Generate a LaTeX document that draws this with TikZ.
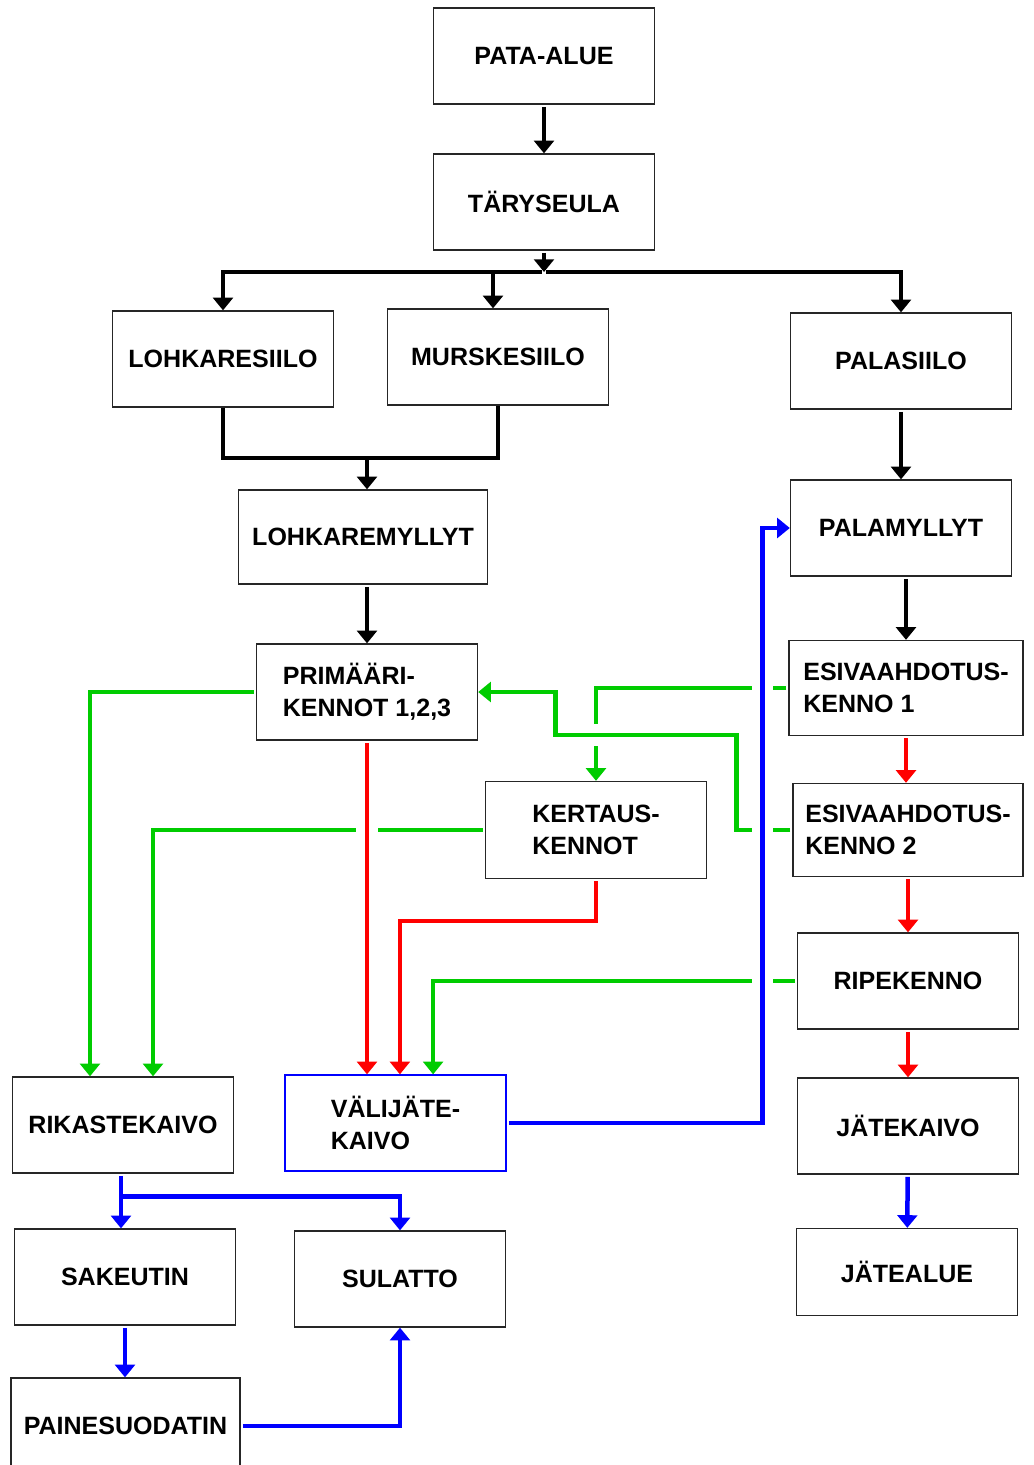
\documentclass[tikz,border=0pt]{standalone}
\usepackage{fontspec}
\setmainfont{Liberation Sans}
\usetikzlibrary{arrows.meta}
\definecolor{flowgreen}{RGB}{0,204,0}
\definecolor{flowred}{RGB}{255,0,0}
\definecolor{flowblue}{RGB}{0,0,255}
\tikzset{
    box/.style={draw=black!85, line width=0.9pt, minimum width=5.525cm, minimum height=2.4cm,
        inner sep=2pt, font=\bfseries\fontsize{17.8}{22.7}\selectfont, align=center},
    flow/.style={line width=3.2pt, shorten <=1.5pt, -{Triangle[width=14pt,length=9pt]}},
    flowline/.style={line width=3.2pt},
    bridge/.style={preaction={draw=white, line width=15pt, arrows=-, shorten >=12pt, shorten <=2pt}},
}

\begin{document}
\begin{tikzpicture}[x=0.025cm, y=-0.025cm]
    \useasboundingbox (0,0) rectangle (1033,1465);
    \clip (0,0) rectangle (1033,1465);
    \node(pata)[box] at (544,56) {PATA-ALUE};
    \node(tary)[box] at (544,202) {TÄRYSEULA};
    \node(lohk)[box] at (223,359) {LOHKARESIILO};
    \node(murs)[box] at (498,357) {MURSKESIILO};
    \node(palas)[box] at (901,361) {PALASIILO};
    \node(lmyl)[box, minimum width=6.225cm, minimum height=2.35cm] at (363,537) {LOHKAREMYLLYT};
    \node(pmyl)[box] at (901,528) {PALAMYLLYT};
    \node(prim)[box, align=left] at (367,692) {PRIMÄÄRI-\\KENNOT 1,2,3};
    \node(esiv1)[box, align=left, minimum width=5.85cm, minimum height=2.375cm] at (906,688) {ESIVAAHDOTUS-\\KENNO 1};
    \node(kert)[box, align=left, minimum height=2.425cm] at (596,830) {KERTAUS-\\KENNOT};
    \node(esiv2)[box, align=left, minimum width=5.75cm, minimum height=2.325cm] at (908,830) {ESIVAAHDOTUS-\\KENNO 2};
    \node(ripe)[box] at (908,981) {RIPEKENNO};
    \node(rik)[box] at (123,1125) {RIKASTEKAIVO};
    \node(valij)[box, draw=flowblue, align=left] at (395.5,1123) {VÄLIJÄTE-\\KAIVO};
    \node(jkaivo)[box] at (908,1126) {JÄTEKAIVO};
    \node(sake)[box] at (125,1277) {SAKEUTIN};
    \node(sula)[box, minimum width=5.275cm] at (400,1279) {SULATTO};
    \node(jalue)[box, minimum height=2.175cm] at (907,1272) {JÄTEALUE};
    \node(paine)[box, minimum width=5.725cm] at (125.5,1426) {PAINESUODATIN};
    \coordinate(bus) at (544,272);
    \coordinate(merge) at (367,458);

    \draw[flow] (pata) -- (tary);
    \draw[flow] (tary.south) -- (bus);
    \draw[flow] (bus) -| (lohk);
    \draw[flow] (bus) -| ([xshift=-0.125cm]murs.north);
    \draw[flow] (bus) -| (palas);
    \draw[flowline] (lohk.south) |- (merge) -| (murs.south);
    \draw[flow] (merge) -- (merge |- lmyl.north);
    \draw[flow] (prim.north |- lmyl.south) -- (prim.north);
    \draw[flow] (palas) -- (pmyl);
    \draw[flow] (esiv1.north |- pmyl.south) -- (esiv1.north);

    \draw[flow, flowgreen] (prim.west) -| ([xshift=-0.825cm]rik.north);
    \draw[flow, flowgreen] (kert.west) -| ([xshift=0.75cm]rik.north);
    \draw[flow, flowgreen] (esiv1.west) -| (kert.north);
    \draw[flow, flowgreen] (ripe.west) -| ([xshift=0.94cm]valij.north);
    \draw[flow, flowgreen, bridge] (esiv2.west) -- ++(-56,0) -- ++(0,-95) -- ++(-181,0) |- (prim.east);

    \draw[flow, flowred, bridge] (prim.south) -- (prim.south |- valij.north);
    \draw[flow, flowred] (kert.south) -- ++(0,42) -| ([xshift=0.11cm]valij.north);
    \draw[flow, flowred] (esiv1.south) -- (esiv1.south |- esiv2.north);
    \draw[flow, flowred] (esiv2) -- (ripe);
    \draw[flow, flowred] (ripe) -- (jkaivo);

    \draw[flow, flowblue, bridge] (valij.east) -- ++(256,0) |- (pmyl.west);
    \draw[flow, flowblue] ([xshift=-0.05cm]rik.south) -- ([xshift=-0.05cm]rik.south |- sake.north);
    \draw[flow, flowblue] ([xshift=-0.05cm]rik.south) ++(0,23) -| (sula.north);
    \draw[flow, flowblue] (sake.south) -- (sake.south |- paine.north);
    \draw[flow, flowblue] (paine.east) -| (sula.south);
    \draw[flow, flowblue] (jkaivo) -- (jalue);
\end{tikzpicture}
\end{document}
